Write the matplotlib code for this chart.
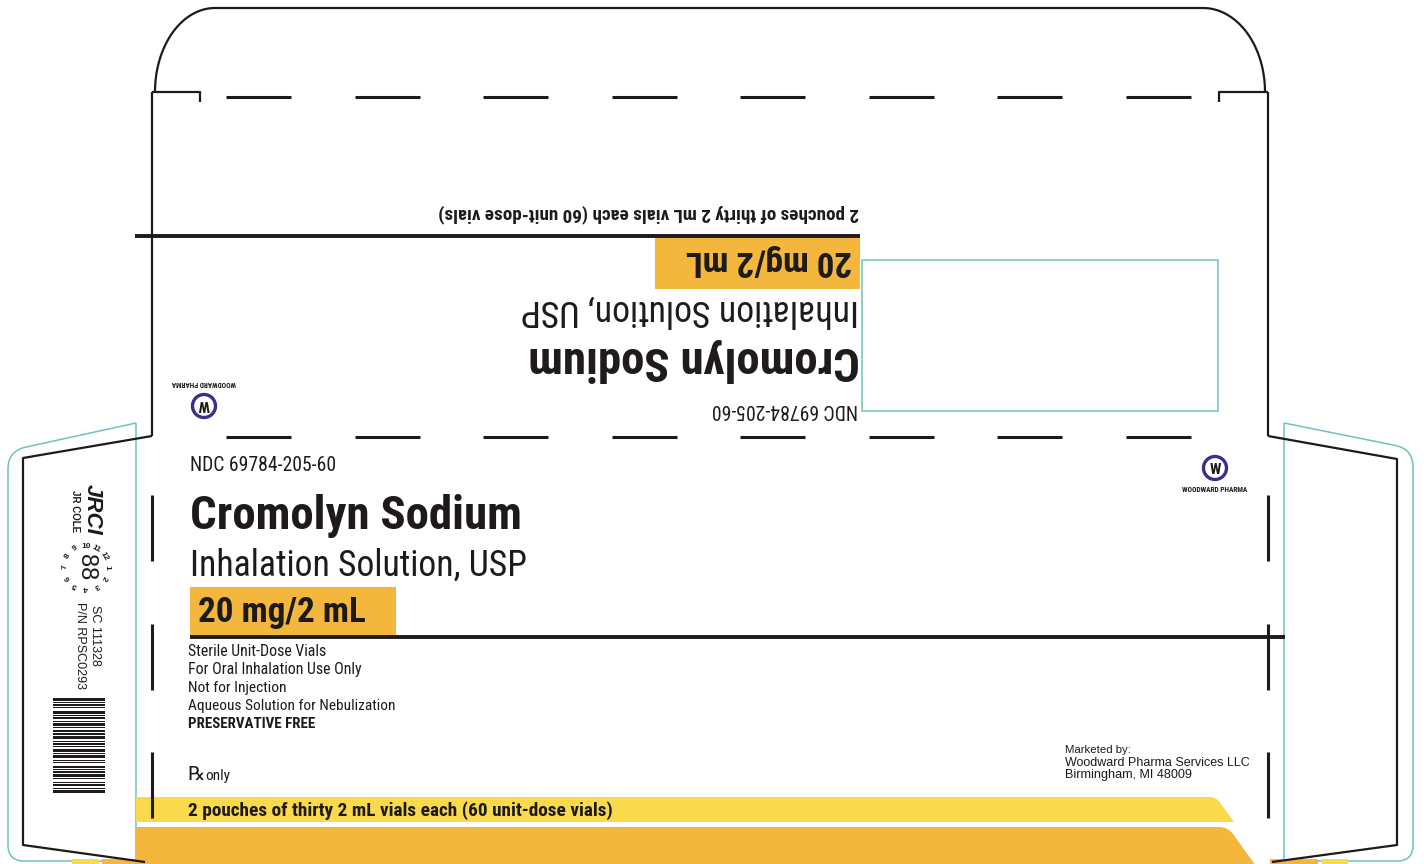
import numpy as np
import matplotlib
matplotlib.use('agg')
import matplotlib.pyplot as plt
from matplotlib import font_manager
from matplotlib.patches import Rectangle, Circle, PathPatch
from matplotlib.path import Path

# ---- label content ----
ndc = 'NDC 69784-205-60'
drug = 'Cromolyn Sodium'
form = 'Inhalation Solution, USP'
strength = '20 mg/2 mL'
count_text = '2 pouches of thirty 2 mL vials each (60 unit-dose vials)'
info_lines = ['Sterile Unit-Dose Vials', 'For Oral Inhalation Use Only',
              'Not for Injection', 'Aqueous Solution for Nebulization']
info_bold = 'PRESERVATIVE FREE'
rx_text = 'only'
marketer = ['Marketed by:', 'Woodward Pharma Services LLC', 'Birmingham, MI 48009']
logo_name = 'WOODWARD PHARMA'
side_codes = ['SC 111328', 'P/N RPSC0293']
printer = ['JRCI', 'JR COLE']
clock_numbers = [10, 11, 12, 1, 2, 3, 4, 5, 6, 7, 8, 9]
# barcode: alternating bar / space thickness (modules)
barcode = [3, 1, 1, 1, 2, 1, 1, 2, 3, 1, 1, 1, 2, 2, 1, 1, 3, 1, 1, 2,
           2, 1, 1, 1, 3, 2, 1, 1, 2, 1, 1, 2, 3, 1, 1, 1, 2, 2, 1, 1,
           1, 3, 2, 1, 1, 1, 2, 1, 3, 1, 1, 2, 1, 1, 2, 2, 1, 1, 3]

INK = '#1e1a1b'
TEAL = '#6cc4ba'
YELLOW = '#f8da4c'
ORANGE = '#f3b73e'
PURPLE = '#3d2e8c'

names = {f.name for f in font_manager.fontManager.ttflist}
COND = next((n for n in ['Liberation Sans Narrow', 'Roboto Condensed',
                         'DejaVu Sans Condensed', 'Open Sans Condensed']
             if n in names), 'DejaVu Sans')
ARIAL = 'Liberation Sans' if 'Liberation Sans' in names else 'DejaVu Sans'

fig = plt.figure(figsize=(14.24, 8.64), dpi=100)
ax = fig.add_axes([0, 0, 1, 1])
ax.set_xlim(0, 1424)
ax.set_ylim(864, 0)
ax.axis('off')
renderer = fig.canvas.get_renderer()


def rpath(pts, radii, closed=False):
  pts = [np.array(p, float) for p in pts]
  verts, codes = [], []
  n = len(pts)
  for i, p in enumerate(pts):
    r = radii[i]
    if i == 0 or r == 0 or (i == n - 1 and not closed):
      verts.append(p)
      codes.append(Path.MOVETO if i == 0 else Path.LINETO)
    else:
      prv, nxt = pts[i - 1], pts[(i + 1) % n]
      a = p + (prv - p) / np.linalg.norm(prv - p) * r
      b = p + (nxt - p) / np.linalg.norm(nxt - p) * r
      verts += [a, p, b]
      codes += [Path.LINETO, Path.CURVE3, Path.CURVE3]
  if closed:
    verts.append(pts[0])
    codes.append(Path.CLOSEPOLY)
  return Path(verts, codes)


def line(xs, ys, lw=1.6, color=INK):
  ax.plot(xs, ys, color=color, lw=lw, solid_capstyle='butt')


def txt(x, y, s, size, fit=None, rot=0, weight='normal', family=None,
        ha='left', va='baseline', **kw):
  t = ax.text(x, y, s, fontsize=size, rotation=rot, rotation_mode='anchor',
              ha=ha, va=va, color=kw.pop('color', INK), weight=weight,
              family=family or COND, fontstretch='condensed', **kw)
  if fit:
    w = t.get_window_extent(renderer).width
    t.set_fontsize(size * np.clip(fit / w, 0.6, 1.25))
  return t


# ---- top tuck flap ----
t = np.linspace(0, np.pi / 2, 40)
line(215 - 60 * np.cos(t), 92 - 84 * np.sin(t))
line(1203 + 62 * np.cos(t), 92 - 84 * np.sin(t))
line([215, 1203], [8, 8])
line([152, 200, 200], [92, 92, 102])
line([1268, 1219, 1219], [92, 92, 102])
line([152, 152], [92, 436])
line([1268, 1268], [92, 436])

# dashed fold lines
for yy in (97, 437):
  for i in range(8):
    x0 = 226 + 128.5 * i
    line([x0, x0 + 65], [yy, yy], lw=2.2)
for xx in (152, 1268):
  for i in range(3):
    y0 = 495 + 128.5 * i
    line([xx, xx], [y0, y0 + 66], lw=2.2)

# thick rules
line([135, 860], [236, 236], lw=2.8)
line([190, 1285], [637, 637], lw=2.8)

# side flaps (black cut lines)
line([152, 23, 23, 145], [436, 458, 845, 862])
line([1268, 1397, 1397, 1272], [436, 459, 845, 862])
# teal bleed outlines
ax.add_patch(PathPatch(rpath([(136, 423), (8, 451), (8, 861), (136, 861)],
                             [0, 18, 16, 0], closed=True),
                       fill=False, ec=TEAL, lw=1.1))
ax.add_patch(PathPatch(rpath([(1284, 423), (1413, 449), (1413, 861), (1284, 861)],
                             [0, 18, 16, 0], closed=True),
                       fill=False, ec=TEAL, lw=1.1))

# ---- bottom colour bands ----
ax.add_patch(PathPatch(rpath([(136, 797), (1216, 797), (1234, 822), (136, 822)],
                             [0, 7, 0, 0], closed=True), fc=YELLOW, ec='none'))
ax.add_patch(PathPatch(rpath([(136, 827), (1228, 827), (1256, 866), (136, 866)],
                             [0, 9, 0, 0], closed=True), fc=ORANGE, ec='none'))
ax.add_patch(Rectangle((72, 859), 27, 6, fc=YELLOW, ec='none'))
ax.add_patch(Rectangle((102, 859), 34, 6, fc=ORANGE, ec='none'))
ax.add_patch(Rectangle((1270, 859), 48, 6, fc=ORANGE, ec='none'))
ax.add_patch(Rectangle((1322, 859), 26, 6, fc=YELLOW, ec='none'))

# ---- upside-down back panel ----
ax.add_patch(Rectangle((655, 238), 205, 51, fc=ORANGE, ec='none'))
ax.add_patch(Rectangle((862, 260), 356, 151, fill=False, ec=TEAL, lw=1.1))
txt(859, 208, count_text, 14, fit=423, rot=180, weight='bold')
txt(852, 251, strength, 25, fit=167, rot=180, weight='bold')
txt(859, 300, form, 28, fit=337, rot=180)
txt(860, 347, drug, 30, fit=332, rot=180, weight='bold')
txt(858, 404, ndc, 15, fit=146, rot=180)
ax.add_patch(Circle((204, 406), 11.5, fc='white', ec=PURPLE, lw=2.4))
txt(204, 406, 'W', 11, rot=180, weight='bold', ha='center', va='center_baseline')
txt(204, 383, logo_name, 5, fit=64, rot=180, weight='bold', ha='center', va='center')

# ---- front panel ----
txt(190, 471, ndc, 16, fit=146)
txt(190, 529, drug, 30, fit=332, weight='bold')
txt(190, 576, form, 28, fit=336)
ax.add_patch(Rectangle((190, 587), 206, 48, fc=ORANGE, ec='none'))
txt(198, 622, strength, 25, fit=168, weight='bold')
info_widths = [139, 173, 99, 208]
for i, (s, w) in enumerate(zip(info_lines, info_widths)):
  txt(188, 656 + 18 * i, s, 12, fit=w)
txt(188, 728, info_bold, 12, fit=128, weight='bold')
ax.text(187, 780, '\u211e', fontsize=14, family=['DejaVu Serif', 'DejaVu Sans'],
        color=INK, ha='left', va='baseline')
txt(205, 780, rx_text, 12, fit=25)
txt(188, 816, count_text, 14, fit=426, weight='bold')

ax.add_patch(Circle((1215, 468), 11.5, fc='white', ec=PURPLE, lw=2.4))
txt(1215, 468, 'W', 11, weight='bold', ha='center', va='center_baseline')
txt(1215, 490, logo_name, 5, fit=66, weight='bold', ha='center', va='center')
for i, s in enumerate(marketer):
  txt(1065, 753 + 12.5 * i, s, 9, fit=[66, 185, 127][i], family=ARIAL)

# ---- left side flap: printer marks ----
txt(92, 484, printer[0], 16, rot=-90, weight='bold', style='italic',
    family=ARIAL, va='center')
txt(75, 490, printer[1], 7, rot=-90, weight='bold', family=ARIAL, va='center')
txt(86, 567, '88', 17, rot=-90, family=ARIAL, ha='center', va='center')
for k, num in enumerate(clock_numbers):
  ang = np.deg2rad(90 - 30 * k)
  txt(86 + 21 * np.cos(ang), 567 - 21 * np.sin(ang), str(num), 6,
      rot=np.rad2deg(ang) - 90, weight='bold', family=ARIAL,
      ha='center', va='center')
txt(95, 605, side_codes[0], 9, rot=-90, family=ARIAL, va='center')
txt(80, 602, side_codes[1], 9, rot=-90, family=ARIAL, va='center')

mods = np.array(barcode, float)
mods *= 95 / mods.sum()
edges = np.concatenate([[0], np.cumsum(mods)]) + 698
bar_y = edges[:-1][::2]
bar_h = mods[::2]
ax.barh(bar_y, 52, height=bar_h, left=53, align='edge', color=INK)

fig.savefig('out.png', dpi=100)
